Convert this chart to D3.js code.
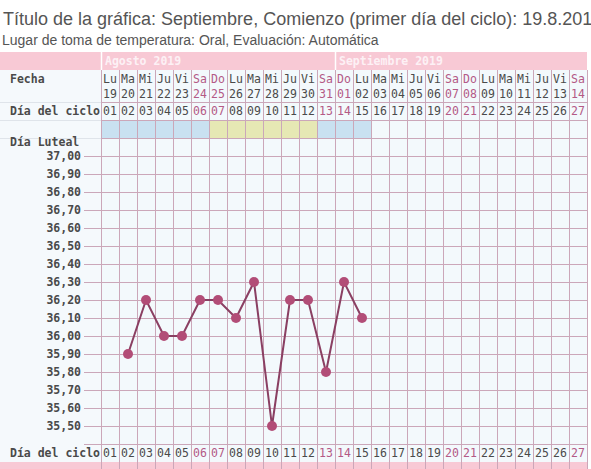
<!DOCTYPE html>
<html>
<head>
<meta charset="utf-8">
<script src="https://cdn.jsdelivr.net/npm/d3@7"></script>
<style>
  body { margin: 0; background: #fff; }
  svg { display: block; }
  .mono { font-family: "DejaVu Sans Mono", monospace; }
</style>
</head>
<body>
<div id="chart"></div>
<script>
// Chart values
const cycleDays = ["01","02","03","04","05","06","07","08","09","10","11","12","13","14",
                   "15","16","17","18","19","20","21","22","23","24","25","26","27"];
const dates = ["19","20","21","22","23","24","25","26","27","28","29","30","31",
               "01","02","03","04","05","06","07","08","09","10","11","12","13","14"];
const weekdays = ["Lu","Ma","Mi","Ju","Vi","Sa","Do","Lu","Ma","Mi","Ju","Vi","Sa",
                  "Do","Lu","Ma","Mi","Ju","Vi","Sa","Do","Lu","Ma","Mi","Ju","Vi","Sa"];
const months = [
    {name: "Agosto 2019", first: "01", last: "13"},
    {name: "Septiembre 2019", first: "14", last: "27"}
];
// band row: b = blue, y = yellow
const bandDays = ["01","02","03","04","05","06","07","08","09","10","11","12","13","14","15"];
const bandKind = ["b","b","b","b","b","b","y","y","y","y","y","y","b","b","b"];
// temperatures by cycle day (day 01 has no reading)
const tempDays = ["02","03","04","05","06","07","08","09","10","11","12","13","14","15"];
const temps = [35.90, 36.20, 36.00, 36.00, 36.20, 36.20, 36.10, 36.30, 35.50, 36.20, 36.20, 35.80, 36.30, 36.10];
const tempTicks = [37.0, 36.9, 36.8, 36.7, 36.6, 36.5, 36.4, 36.3, 36.2, 36.1, 36.0, 35.9, 35.8, 35.7, 35.6, 35.5];

const W = 591, H = 469;
const gridColor = "#cba7b9";
const pink = "#f8c9d5";
const weekendColor = "#b45a86";
const textColor = "#4a4a4a";

const svg = d3.select("#chart").append("svg")
    .attr("width", W).attr("height", H);

// Scales
const x = d3.scaleBand().domain(cycleDays).range([101, 587]).padding(0);
const y = d3.scaleLinear().domain([35.5, 37.0]).range([426, 156]);
const step = Math.abs(y(36.9) - y(37.0));

const rows = {month: 52, fecha: 70, ciclo: 102, band: 120, luteal: 138};
const gridBottom = y(35.5) + step;      // 444
const bottomRow = gridBottom + step;    // 462

// Titles
svg.append("text")
    .attr("x", 3).attr("y", 25)
    .style("font-family", "'Liberation Sans', Arial, sans-serif")
    .style("font-size", "18px").style("fill", "#555")
    .text("Título de la gráfica: Septiembre, Comienzo (primer día del ciclo): 19.8.2019");
svg.append("text")
    .attr("x", 2).attr("y", 45)
    .style("font-family", "'Liberation Sans', Arial, sans-serif")
    .style("font-size", "14px").style("fill", "#555")
    .text("Lugar de toma de temperatura: Oral, Evaluación: Automática");

// Backgrounds
svg.append("rect").attr("x", 0).attr("y", rows.fecha).attr("width", 101)
    .attr("height", bottomRow - rows.fecha).attr("fill", "#f5f9fc");
svg.append("rect").attr("x", 101).attr("y", rows.fecha).attr("width", 486)
    .attr("height", bottomRow - rows.fecha).attr("fill", "#f3f9fc");

// pink month row and bottom pink row
svg.append("rect").attr("x", 0).attr("y", rows.month).attr("width", 587)
    .attr("height", rows.fecha - rows.month).attr("fill", pink);
svg.append("rect").attr("x", 0).attr("y", bottomRow).attr("width", 587)
    .attr("height", H - bottomRow).attr("fill", pink);

// band row
svg.append("g").selectAll("rect")
    .data(bandDays)
    .join("rect")
    .attr("x", d => x(d)).attr("y", rows.band)
    .attr("width", x.bandwidth()).attr("height", rows.luteal - rows.band)
    .attr("fill", (d, i) => bandKind[i] === "b" ? "#c9e1f1" : "#e6e8b4");

// left column faint separators
svg.append("g").selectAll("line")
    .data([rows.ciclo, rows.band, rows.luteal])
    .join("line")
    .attr("x1", 0).attr("x2", 101).attr("y1", d => d + 0.5).attr("y2", d => d + 0.5)
    .attr("stroke", "#dfe4ea");

// horizontal grid lines
const hLines = [rows.ciclo, rows.band, rows.luteal].concat(tempTicks.map(y), [gridBottom]);
svg.append("g").selectAll("line")
    .data(hLines)
    .join("line")
    .attr("x1", (d, i) => i < 3 ? 101 : 84).attr("x2", 587)
    .attr("y1", d => Math.round(d) + 0.5).attr("y2", d => Math.round(d) + 0.5)
    .attr("stroke", gridColor).attr("stroke-width", 1);

// vertical grid lines
svg.append("g").selectAll("line")
    .data(cycleDays.concat(["end"]))
    .join("line")
    .attr("x1", d => (d === "end" ? x.range()[1] : x(d)) + 0.5)
    .attr("x2", d => (d === "end" ? x.range()[1] : x(d)) + 0.5)
    .attr("y1", rows.fecha).attr("y2", H)
    .attr("stroke", gridColor).attr("stroke-width", 1);

// month header
const monthG = svg.append("g").attr("class", "mono");
monthG.selectAll("line")
    .data(months)
    .join("line")
    .attr("x1", d => x(d.first) + 0.5).attr("x2", d => x(d.first) + 0.5)
    .attr("y1", rows.month).attr("y2", rows.fecha)
    .attr("stroke", "#fff").attr("stroke-width", 1.5);
monthG.selectAll("text")
    .data(months)
    .join("text")
    .attr("x", d => x(d.first) + 4).attr("y", rows.month + 13)
    .style("font-size", "11.5px").style("font-weight", "bold")
    .style("fill", "#fdf1f5")
    .text(d => d.name);

const isWeekend = i => weekdays[i] === "Sa" || weekdays[i] === "Do";

// Fecha row
const fechaG = svg.append("g").attr("class", "mono")
    .style("font-size", "11.5px").attr("text-anchor", "middle");
fechaG.selectAll("text.wd")
    .data(cycleDays)
    .join("text").attr("class", "wd")
    .attr("x", d => x(d) + x.bandwidth() / 2).attr("y", rows.fecha + 13)
    .style("fill", (d, i) => isWeekend(i) ? weekendColor : textColor)
    .text((d, i) => weekdays[i]);
fechaG.selectAll("text.dt")
    .data(cycleDays)
    .join("text").attr("class", "dt")
    .attr("x", d => x(d) + x.bandwidth() / 2).attr("y", rows.fecha + 28)
    .style("fill", (d, i) => isWeekend(i) ? weekendColor : textColor)
    .text((d, i) => dates[i]);

// Día del ciclo rows (top and bottom)
[rows.ciclo + 13, gridBottom + 13].forEach(function (yy) {
    svg.append("g").attr("class", "mono")
        .style("font-size", "11.5px").attr("text-anchor", "middle")
        .selectAll("text")
        .data(cycleDays)
        .join("text")
        .attr("x", d => x(d) + x.bandwidth() / 2).attr("y", yy)
        .style("fill", (d, i) => isWeekend(i) ? weekendColor : textColor)
        .text(d => d);
    svg.append("text").attr("class", "mono")
        .attr("x", 10).attr("y", yy)
        .style("font-size", "11.5px").style("font-weight", "bold").style("fill", textColor)
        .text("Día del ciclo");
});

// left labels
svg.append("text").attr("class", "mono")
    .attr("x", 10).attr("y", rows.fecha + 13)
    .style("font-size", "11.5px").style("font-weight", "bold").style("fill", textColor)
    .text("Fecha");
svg.append("text").attr("class", "mono")
    .attr("x", 10).attr("y", rows.luteal + 8)
    .style("font-size", "11.5px").style("font-weight", "bold").style("fill", textColor)
    .text("Día Luteal");

// temperature axis labels
const yAxis = d3.axisLeft(y)
    .tickValues(tempTicks)
    .tickSize(0)
    .tickPadding(0)
    .tickFormat(d => d3.format(".2f")(d).replace(".", ","));
const axisG = svg.append("g")
    .attr("transform", "translate(81,0)")
    .call(yAxis);
axisG.select(".domain").remove();
axisG.selectAll("text")
    .attr("class", "mono")
    .style("font-family", "'DejaVu Sans Mono', monospace")
    .style("font-size", "11.5px").style("font-weight", "bold")
    .style("fill", textColor);

// temperature line
const points = tempDays.map((d, i) => ({day: d, t: temps[i]}));
const line = d3.line()
    .x(d => x(d.day) + x.bandwidth() / 2)
    .y(d => y(d.t));
svg.append("path")
    .datum(points)
    .attr("d", line)
    .attr("fill", "none")
    .attr("stroke", "#8a3f62")
    .attr("stroke-width", 2);
svg.append("g").selectAll("circle")
    .data(points)
    .join("circle")
    .attr("cx", d => x(d.day) + x.bandwidth() / 2)
    .attr("cy", d => y(d.t))
    .attr("r", 5)
    .attr("fill", "#b24d77");
</script>
</body>
</html>
